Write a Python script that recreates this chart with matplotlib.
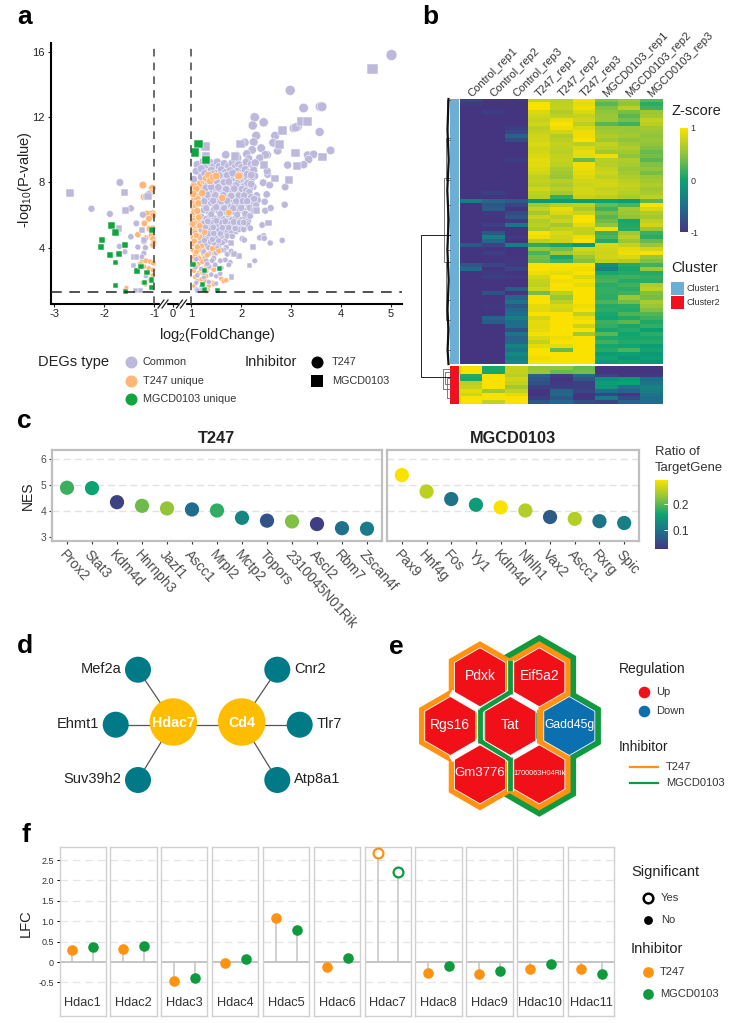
import numpy as np
import matplotlib
matplotlib.use("Agg")
import matplotlib.pyplot as plt
from matplotlib.colors import LinearSegmentedColormap, Normalize
from matplotlib.cm import ScalarMappable
from matplotlib.patches import Circle, Rectangle, RegularPolygon

plt.rcParams['font.family'] = ['Liberation Sans', 'DejaVu Sans']
plt.rcParams['mathtext.fontset'] = 'custom'
plt.rcParams['mathtext.rm'] = 'Liberation Sans'
plt.rcParams['mathtext.default'] = 'rm'

W, H = 744, 1023

# a: volcano points (log2FC, -log10P)
common_circle = [
    (5.01, 15.82), (2.98, 13.65), (3.25, 12.57), (3.58, 12.65), (3.62, 12.65), (2.27, 12.0), (2.23, 11.5), (2.45, 11.69),
    (3.05, 11.34), (3.13, 11.42), (3.09, 11.38), (3.57, 11.1), (2.3, 10.87), (2.68, 10.87), (2.07, 10.46), (2.25, 10.48),
    (2.64, 10.44), (2.4, 10.11), (2.73, 9.95), (2.22, 10.0), (3.79, 9.97), (3.33, 9.68), (3.45, 9.73), (3.35, 9.42),
    (3.25, 9.09), (2.93, 9.07), (2.52, 9.7), (2.48, 9.7), (2.37, 9.5), (1.69, 9.7), (1.91, 9.66), (1.93, 9.5),
    (2.11, 9.75), (2.15, 9.45), (2.88, 7.72), (2.87, 6.64), (2.44, 7.99), (2.57, 7.84), (2.51, 7.27), (2.31, 7.21),
    (2.33, 6.92), (2.47, 6.82), (2.48, 6.27), (2.59, 6.43), (2.24, 7.74), (2.42, 5.39), (2.82, 4.45), (2.58, 4.29),
    (2.45, 4.72), (2.37, 4.61), (2.46, 4.58), (2.02, 4.55), (2.06, 4.47), (2.53, 8.5), (2.52, 8.7), (2.27, 3.2),
    (-1.69, 8.0), (-2.26, 6.39), (-1.89, 6.07), (-1.47, 6.41), (-1.36, 5.49), (-1.47, 4.67), (-1.7, 4.08), (-1.59, 3.75),
    (-1.21, 4.37), (-1.33, 4.04), (-1.18, 4.0), (-1.21, 3.65), (-1.25, 3.44), (-1.17, 2.26), (-1.11, 7.27), (-1.23, 6.02),
    (1.12, 9.1), (1.24, 9.3), (1.3, 9.05), (1.38, 9.22), (1.45, 9.0), (1.52, 9.25), (1.56, 8.98), (1.66, 9.15),
    (1.75, 9.0), (1.82, 9.2), (1.88, 8.95), (1.95, 9.1), (2.0, 8.9), (2.1, 9.25), (2.2, 9.1), (2.25, 8.95), (2.28, 9.2),
    (1.1, 8.7), (1.2, 8.85), (1.32, 8.62), (1.4, 8.75), (1.5, 8.55), (1.6, 8.78), (1.68, 8.6), (1.78, 8.72),
    (1.85, 8.5), (1.92, 8.68), (2.0, 8.55), (2.08, 8.8), (2.15, 8.6), (2.25, 8.75), (2.27, 8.4),
    (1.05, 8.2), (1.2, 8.35), (1.35, 8.18), (1.45, 8.32), (1.55, 8.12), (1.65, 8.38), (1.72, 8.2), (1.8, 8.3),
    (1.88, 8.1), (1.95, 8.28), (2.03, 8.15), (2.1, 8.35), (2.2, 8.2),
    (1.3, 7.9), (1.38, 7.78), (1.47, 7.95), (1.55, 7.82), (1.62, 7.98), (1.7, 7.75), (1.77, 7.92), (1.84, 7.8),
    (1.92, 7.95), (2.0, 7.72), (2.08, 7.88), (2.17, 7.6),
    (1.25, 7.5), (1.33, 7.38), (1.42, 7.55), (1.5, 7.42), (1.58, 7.6), (1.66, 7.35), (1.74, 7.52), (1.82, 7.4),
    (1.9, 7.55), (1.97, 7.3), (2.05, 7.48), (2.12, 7.25),
    (1.28, 7.1), (1.36, 6.98), (1.44, 7.15), (1.52, 7.0), (1.6, 7.12), (1.68, 6.95), (1.76, 7.08), (1.84, 6.92),
    (1.92, 7.1), (2.0, 6.95), (2.1, 7.05), (2.18, 6.78),
    (1.22, 6.7), (1.3, 6.58), (1.4, 6.75), (1.48, 6.6), (1.56, 6.72), (1.65, 6.55), (1.73, 6.68), (1.8, 6.52),
    (1.88, 6.7), (1.95, 6.58), (2.05, 6.72), (2.15, 6.6), (2.25, 6.65),
    (1.25, 6.3), (1.35, 6.18), (1.45, 6.35), (1.55, 6.2), (1.62, 6.32), (1.7, 6.15), (1.8, 6.3), (1.88, 6.12),
    (1.96, 6.28), (2.05, 6.3), (2.12, 6.1), (2.2, 6.32),
    (1.2, 5.9), (1.3, 5.78), (1.38, 5.95), (1.47, 5.8), (1.57, 5.92), (1.65, 5.75), (1.75, 5.9), (1.82, 5.72),
    (1.9, 5.88), (2.0, 5.7), (2.08, 5.9), (2.14, 5.62),
    (1.25, 5.5), (1.35, 5.38), (1.42, 5.52), (1.52, 5.4), (1.6, 5.55), (1.7, 5.35), (1.78, 5.48), (1.85, 5.3),
    (1.93, 5.4), (2.0, 5.25), (2.12, 5.45), (2.18, 5.2),
    (1.2, 5.1), (1.3, 4.98), (1.37, 5.12), (1.48, 4.95), (1.55, 5.08), (1.65, 4.95), (1.72, 5.05), (1.8, 4.92),
    (1.9, 5.0), (1.95, 5.12),
    (1.22, 4.7), (1.32, 4.58), (1.4, 4.72), (1.5, 4.6), (1.6, 4.7), (1.68, 4.42),
    (1.18, 4.3), (1.28, 4.18), (1.38, 4.35), (1.47, 4.22), (1.55, 4.12), (1.62, 4.3), (1.7, 4.02),
    (1.25, 3.75), (1.35, 3.62), (1.5, 3.7), (1.65, 3.85), (1.72, 3.6), (1.8, 3.78),
    (1.1, 3.3), (1.3, 3.2), (1.45, 3.35), (1.68, 3.25), (1.78, 3.1),
    (1.08, 2.8), (1.2, 2.7), (1.35, 2.85), (1.6, 2.75), (1.75, 2.95),
    (1.12, 2.3), (1.25, 2.18), (1.4, 2.35), (1.5, 2.25), (1.58, 2.4),
    (1.1, 1.85), (1.22, 1.75), (1.35, 1.9), (1.5, 1.8), (1.1, 1.45), (1.2, 1.6),
    # second pass over the dense part of the cloud
    (1.27, 8.55), (1.42, 8.52), (1.56, 8.42), (1.72, 8.45), (1.83, 8.58), (1.98, 8.42), (2.12, 8.5), (2.2, 8.45),
    (1.34, 8.02), (1.5, 8.12), (1.66, 8.02), (1.75, 8.05), (1.9, 7.82), (2.05, 7.75), (2.13, 7.95), (2.2, 7.9),
    (1.29, 7.68), (1.4, 7.72), (1.54, 7.7), (1.7, 7.58), (1.86, 7.62), (2.02, 7.6), (2.1, 7.5), (2.16, 7.4),
    (1.32, 7.25), (1.48, 7.22), (1.64, 7.22), (1.8, 7.18), (1.95, 7.2), (2.06, 7.2), (2.2, 7.1), (2.26, 7.0),
    (1.26, 6.85), (1.44, 6.88), (1.6, 6.85), (1.72, 6.88), (1.9, 6.85), (2.03, 6.85), (2.12, 6.85), (2.3, 6.6),
    (1.3, 6.42), (1.5, 6.48), (1.66, 6.42), (1.84, 6.42), (2.0, 6.45), (2.17, 6.45), (1.4, 6.05), (1.58, 6.08),
    (1.74, 6.05), (1.92, 6.02), (2.08, 6.08), (2.18, 5.95), (1.33, 5.62), (1.5, 5.65), (1.68, 5.62), (1.85, 5.58),
    (1.97, 5.55), (2.05, 5.55), (1.28, 5.25), (1.44, 5.25), (1.62, 5.22), (1.75, 5.22), (1.88, 5.18), (2.05, 5.12),
    (1.35, 4.85), (1.45, 4.88), (1.58, 4.85), (1.72, 4.72), (1.82, 4.7), (1.26, 4.45), (1.42, 4.5), (1.55, 4.42),
    (1.35, 4.0), (1.52, 3.95), (1.6, 3.85), (1.42, 3.2), (1.58, 3.2), (1.25, 2.45), (1.32, 3.0), (1.48, 2.95),
]
common_square = [
    (4.63, 14.96), (3.21, 11.75), (3.33, 11.73), (2.83, 11.16), (1.99, 10.36), (2.77, 10.32), (1.28, 10.22), (1.29, 9.62),
    (3.09, 9.81), (3.63, 9.58), (3.11, 9.03), (2.45, 9.05), (2.68, 8.25), (2.95, 8.17), (2.55, 5.51), (2.26, 6.31),
    (2.23, 4.04), (2.17, 2.92), (1.79, 4.27), (1.95, 3.49), (1.85, 3.6), (1.8, 2.2), (1.88, 9.6), (2.3, 6.3),
    (-2.69, 7.35), (-1.6, 7.37), (-1.58, 6.27), (-1.71, 5.19), (-1.25, 5.08), (-1.21, 4.45), (-1.41, 3.45), (-1.36, 3.43),
    (-1.42, 2.92), (-1.13, 7.13), (-1.38, 1.4), (-1.28, 1.35), (1.12, 1.38), (1.22, 1.42),
]
t247_circle = [
    (-1.23, 7.84), (-1.04, 7.64), (-1.07, 7.37), (-1.21, 7.11), (-1.17, 7.13), (-1.03, 6.11), (-1.08, 6.07), (-1.15, 6.07),
    (-1.03, 5.96), (-1.11, 5.78), (-1.2, 5.49), (-1.1, 5.17), (-1.03, 5.19), (-1.33, 4.8), (-1.17, 4.59), (-1.06, 4.76),
    (-1.03, 4.55), (-1.01, 4.31), (-1.03, 4.16), (-1.25, 3.14), (-1.17, 3.2), (-1.08, 3.14), (-1.02, 3.05), (-1.21, 2.83),
    (-1.11, 2.73), (-1.03, 2.63), (-1.23, 1.85), (-1.18, 1.75), (-1.08, 2.02), (-1.56, 1.53), (-1.03, 2.3), (-1.28, 3.0),
    (1.05, 7.55), (1.09, 7.2), (1.06, 6.95), (1.12, 7.05), (1.15, 7.4), (1.2, 7.65), (1.18, 7.95), (1.25, 8.1),
    (1.3, 8.25), (1.35, 8.45), (1.38, 8.1), (1.44, 8.32), (1.5, 8.4), (1.95, 8.4), (1.75, 6.15), (1.62, 7.05),
    (1.05, 6.45), (1.09, 6.6), (1.06, 6.2), (1.12, 6.25), (1.03, 5.95), (1.09, 5.85), (1.15, 6.0), (1.05, 5.65),
    (1.12, 5.55), (1.18, 5.7), (1.04, 5.3), (1.1, 5.2), (1.17, 5.35), (1.22, 5.25), (1.03, 5.0), (1.08, 4.9),
    (1.14, 5.0), (1.2, 4.85), (1.27, 4.95), (1.04, 4.6), (1.1, 4.55), (1.16, 4.65), (1.24, 4.5), (1.3, 4.4),
    (1.03, 4.25), (1.08, 4.15), (1.14, 4.3), (1.2, 4.1), (1.27, 4.0), (1.34, 4.05), (1.42, 3.95), (1.48, 4.0),
    (1.04, 3.85), (1.1, 3.75), (1.17, 3.9), (1.24, 3.65), (1.32, 3.55), (1.4, 3.7), (1.47, 3.6), (1.55, 3.8),
    (1.05, 3.4), (1.12, 3.5), (1.2, 3.3), (1.06, 3.1), (1.14, 3.0), (1.22, 3.15), (1.3, 2.9), (1.05, 2.6),
    (1.15, 2.45), (1.3, 2.55), (1.38, 2.8), (1.45, 2.65), (1.08, 2.2), (1.2, 2.05), (1.3, 2.25), (1.6, 2.1),
    (1.65, 1.95), (1.35, 1.65), (1.43, 1.85), (1.33, 1.4), (1.3, 1.33), (1.45, 1.75), (1.7, 2.0), (1.05, 7.8),
    (1.04, 7.3), (1.1, 7.6), (1.22, 7.35), (1.04, 6.7), (1.14, 6.72), (1.03, 5.45), (1.15, 5.85), (1.07, 5.0),
    (1.1, 4.75), (1.19, 4.45), (1.06, 4.4), (1.24, 4.25), (1.12, 4.05), (1.08, 3.6), (1.15, 3.35), (1.28, 3.4),
    (1.1, 2.85), (1.2, 2.6), (1.12, 1.95), (1.28, 1.95), (1.06, 1.65), (1.18, 1.5),
]
mgcd_square = [
    (1.14, 10.36), (1.07, 9.85), (1.29, 9.36), (-1.86, 5.35), (-1.78, 4.94), (-2.05, 4.45), (-2.07, 4.06), (-1.59, 4.18),
    (-1.89, 3.55), (-1.7, 3.63), (-1.78, 3.1), (-1.78, 1.67), (-1.57, 1.32), (-1.35, 2.57), (-1.27, 2.85), (-1.15, 2.49),
    (-1.05, 2.02), (-1.05, 1.57), (-1.19, 1.85), (-1.05, 5.08), (1.56, 2.73), (1.53, 1.4), (1.03, 2.98), (1.26, 1.44),
    (1.23, 1.77), (1.27, 2.59),
]
# a: x ticks
volcano_ticks = [-3, -2, -1, 0, 1, 2, 3, 4, 5]
volcano_yticks = [4, 8, 12, 16]

# b: heatmap z-scores, rows top to bottom
samples = ['Control_rep1', 'Control_rep2', 'Control_rep3', 'T247_rep1', 'T247_rep2', 'T247_rep3',
           'MGCD0103_rep1', 'MGCD0103_rep2', 'MGCD0103_rep3']
cluster1 = [
    [-.85, -1, -1, .75, .7, .95, .45, .55, .3],
    [-.95, -1, -1, 1, .72, .9, .3, .5, .12],
    [-1, -1, -1, 1, .75, .95, .45, .7, .2],
    [-1, -.9, -1, .85, .65, .85, .5, .42, .55],
    [-1, -1, -1, .8, .72, .75, .55, .3, .6],
    [-1, -1, -1, .75, .92, .8, .55, .42, .75],
    [-1, -1, -1, .8, 1, .7, .3, .2, .7],
    [-1, -1, -.9, .7, .95, .85, .55, .55, .6],
    [-1, -1, -.85, .75, .8, .95, .6, .55, .55],
    [-1, -1, -.6, .8, .65, .95, .65, .6, .5],
    [-1, -1, -.8, .8, .7, 1, .6, .5, .55],
    [-1, -1, -1, .85, .75, .7, .75, .6, .5],
    [-1, -1, -1, .8, .72, .85, .7, .65, .45],
    [-1, -1, -1, .82, .7, .92, .6, .6, .35],
    [-1, -1, -1, .85, .75, .9, .95, .5, .4],
    [-1, -1, -.9, .9, .75, .35, .7, .65, .3],
    [-1, -1, -1, .88, .72, .95, .68, .62, .45],
    [-1, -1, -1, .85, .62, .92, .75, .55, .5],
    [-1, -1, -1, .8, .6, .9, .78, .6, .42],
    [-1, -1, -1, .72, .55, .85, .72, .65, .55],
    [-1, -1, -1, .75, .68, .8, .8, .7, .6],
    [-1, -1, -1, .7, .62, .78, .82, .75, .65],
    [-1, -1, -1, .8, .7, .82, .75, .72, .58],
    [-1, -.9, -1, .72, .6, .8, .78, .68, .62],
    [-1, -1, -1, .68, .15, .75, .7, .62, .72],
    [-.35, -.55, -.65, -.1, -.05, -.02, 0, -.05, .3],
    [-1, -.7, -.85, .6, .7, .72, .35, .25, 1],
    [-1, -.65, -1, .75, .92, .62, .2, .6, .85],
    [-1, -.95, -.8, .6, .85, .78, .4, .55, .65],
    [-1, -1, -.7, .78, .7, 1, .3, .5, .6],
    [-1, -1, -.95, .65, .78, 1, .38, .05, .72],
    [-1, -.9, -.45, .7, .6, .88, .5, .08, .8],
    [-1, -1, -1, .62, .72, .75, .95, .1, .55],
    [-1, -.7, -1, 1, .85, .72, .2, .6, .18],
    [-1, -.35, -.95, .95, .8, .95, .25, .7, .12],
    [-1, -.55, -1, .7, .78, 1, .1, .55, .35],
    [-.7, -.85, -.35, .12, .05, -.1, .85, .75, .55],
    [-1, -1, -1, .5, .4, .8, .82, .9, .8],
    [-1, -.9, -1, .25, .6, .72, .78, .95, 1],
    [-1, -1, -1, .4, .05, .55, .8, .85, .55],
    [-1, -1, -.95, .35, .2, .45, .72, .65, .45],
    [-.7, -.85, -.95, 1, 1, 1, -.2, .1, .2],
    [-.55, -1, -.85, 1, .98, .95, -.3, .05, .55],
    [-1, -.95, -1, .95, .9, 1, .05, .1, .1],
    [-1, -.9, -.95, .82, 1, .85, .18, .2, .15],
    [-1, -1, -1, .75, .95, .98, .22, .1, .12],
    [-1, -1, -1, .72, 1, .9, .12, .2, .65],
    [-1, -1, -.65, .8, .98, 1, .15, .12, .72],
    [-1, -.75, -1, .4, .72, 1, .15, .2, .45],
    [-1, -1, -.6, 1, .55, 1, .12, .55, .42],
    [-1, -1, -.45, 1, .72, 1, .25, .4, .62],
    [-1, -.95, -.7, .9, .85, .95, .1, .12, .55],
    [-1, -1, -.55, .88, .8, 1, .12, .1, .45],
    [-1, -1, -.5, 1, 1, .72, .05, .25, .28],
    [-1, -.6, -.35, .82, 1, .95, .02, .08, .2],
    [-1, -.65, -.5, .9, 1, 1, .18, .3, .08],
    [-1, -1, -.5, .88, 1, .78, .15, .05, .15],
    [-1, -1, -.75, .9, 1, 1, .05, .1, -.02],
    [-1, -1, -.45, .98, 1, .6, .3, .02, .12],
    [-1, -1, -.6, .85, .95, 1, .08, .05, .05],
    [-1, -1, -.55, .75, 1, 1, .2, .1, .1],
    [-1, -1, -.3, .9, .9, 1, .05, .02, -.05],
    [-1, -1, -.45, 1, .35, 1, .1, .25, .02],
    [-1, -1, -.25, 1, 1, 1, -.05, -.02, -.1],
    [-1, -1, -.35, .95, 1, 1, .02, -.15, -.02],
    [-1, -1, -.25, 1, 1, 1, -.08, 0, -.12],
]
cluster2 = [
    [1, .05, .75, .5, .5, .35, -1, -1, -1],
    [1, .05, .75, .55, .35, .4, -1, -1, -1],
    [.1, 1, .7, -.6, -.9, -.5, -.85, -.95, -.95],
    [.05, 1, .8, -.7, -1, -.7, -.2, -.1, -.5],
    [.7, 1, .75, -.75, -.95, -.9, -.05, 0, -.45],
    [.75, 1, .6, -.9, -.9, -.9, -.1, -.45, -.3],
    [.9, .6, .75, -1, -.6, -.85, -.5, -.6, -.35],
    [.8, 1, .9, -1, -.55, -1, -.85, -.95, -.45],
    [1, 1, 1, -.9, -.7, -1, -.4, -.8, -.5],
    [1, .75, 1, -.7, -.55, -.75, -.85, -.6, -.5],
]
# b: dendrogram brackets (x0, y_top, y_bottom), joined to the right
dend_brackets = [
    (443.5, 178, 262), (446, 138, 180), (447, 205, 250), (445.5, 262, 320),
    (446.5, 300, 350), (447, 100, 140), (442.5, 369, 389), (445, 372, 384), (447, 378, 398),
]
dend_root = (421, 235, 377)

# c: regulon enrichment
t247_tf = ['Prox2', 'Stat3', 'Kdm4d', 'Hnrnph3', 'Jazf1', 'Ascc1', 'Mrpl2', 'Mctp2', 'Topors', '2310045N01Rik',
           'Ascl2', 'Rbm7', 'Zscan4f']
t247_nes = [4.885, 4.87, 4.33, 4.19, 4.09, 4.05, 4.01, 3.73, 3.62, 3.59, 3.49, 3.33, 3.31]
t247_ratio = [.185, .16, .04, .21, .23, .09, .18, .125, .06, .22, .035, .095, .11]
mgcd_tf = ['Pax9', 'Hnf4g', 'Fos', 'Yy1', 'Kdm4d', 'Nhlh1', 'Vax2', 'Ascc1', 'Rxrg', 'Spic']
mgcd_nes = [5.37, 4.74, 4.45, 4.23, 4.13, 4.01, 3.76, 3.69, 3.60, 3.53]
mgcd_ratio = [.295, .255, .10, .15, .295, .25, .07, .25, .10, .115]

# d: network
hubs = ['Hdac7', 'Cd4']
hub_links = [('Mef2a', 0), ('Ehmt1', 0), ('Suv39h2', 0), ('Cnr2', 1), ('Tlr7', 1), ('Atp8a1', 1)]

# e: hexagons
hex_genes = ['Pdxk', 'Eif5a2', 'Rgs16', 'Tat', 'Gadd45g', 'Gm3776', '1700063H04Rik']
hex_regulation = ['Up', 'Up', 'Up', 'Up', 'Down', 'Up', 'Up']

# f: Hdac lollipops
hdacs = ['Hdac1', 'Hdac2', 'Hdac3', 'Hdac4', 'Hdac5', 'Hdac6', 'Hdac7', 'Hdac8', 'Hdac9', 'Hdac10', 'Hdac11']
lfc_t247 = [.29, .33, -.47, -.02, 1.08, -.12, 2.66, -.26, -.30, -.17, -.16]
lfc_mgcd = [.37, .38, -.38, .07, .78, .11, 2.21, -.11, -.22, -.06, -.29]
sig_hdac = ['Hdac7']

ORANGE = '#ff9210'
GREEN = '#0f9b3d'
PURPLE = '#bdb9dc'
zcmap = LinearSegmentedColormap.from_list('z', ['#453581', '#1f6e8c', '#0ba373', '#8fc43c', '#fae100'])


def px_axes(fig, l, t, r, b, **kw):
    return fig.add_axes([l / W, 1 - b / H, (r - l) / W, (b - t) / H], **kw)


def point_area(y):
    return ((4.3 + 0.42 * np.asarray(y)) * 0.72) ** 2


def fwd(x):
    x = np.asarray(x, dtype=float)
    return np.where(np.abs(x) <= 1, 0.37 * x, x - np.sign(x) * 0.63)


def inv(x):
    x = np.asarray(x, dtype=float)
    return np.where(np.abs(x) <= 0.37, x / 0.37, x + np.sign(x) * 0.63)


fig = plt.figure(figsize=(W / 100, H / 100), dpi=100)
over = fig.add_axes([0, 0, 1, 1], zorder=5)
over.set_xlim(0, W)
over.set_ylim(H, 0)
over.axis('off')
over.patch.set_alpha(0)

for letter, lx, ly in [('a', 17, 24), ('b', 422, 24), ('c', 17, 428), ('d', 17, 653), ('e', 389, 654), ('f', 21, 842)]:
    over.text(lx, ly, letter, fontsize=19, fontweight='bold')

# panel a
ax = px_axes(fig, 50.5, 43, 402, 304)
ax.set_xscale('function', functions=(fwd, inv))
ax.set_xlim(-3.08, 5.22)
ax.set_ylim(4 - (304 - 247.7) / 16.3, 4 + (247.7 - 43) / 16.3)
for pts, col, mk, zo in [(t247_circle, '#fdb777', 'o', 2), (common_circle, PURPLE, 'o', 3), (common_square, PURPLE, 's', 3), (mgcd_square, '#0fa63f', 's', 4)]:
    px_, py_ = zip(*pts)
    ax.scatter(px_, py_, s=point_area(py_), c=col, marker=mk, edgecolors='white', linewidths=0.35, zorder=zo)
# a few T247 genes sit on top of the common cloud
top_orange = t247_circle[40:52] + t247_circle[60:90:3] + t247_circle[112:126:2]
ax.scatter(*zip(*top_orange), s=point_area([p[1] for p in top_orange]), c='#fdb777', edgecolors='white', linewidths=0.35, zorder=3.5)
for v in (-1, 1):
    ax.axvline(v, color='#444444', lw=1.1, ls=(0, (5, 4)), zorder=5)
ax.axhline(1.3, color='#222222', lw=1.1, ls=(0, (7, 5)), zorder=5)
ax.set_xticks(volcano_ticks)
ax.set_xticklabels([str(t) for t in volcano_ticks])
ax.xaxis.set_minor_locator(plt.NullLocator())
ax.set_yticks(volcano_yticks)
ax.tick_params(labelsize=8, length=2, width=0.8, pad=2, color='#222222', labelcolor='#222222')
ax.tick_params(axis='x', pad=1.5)
for s in ('top', 'right'):
    ax.spines[s].set_visible(False)
for s in ('left', 'bottom'):
    ax.spines[s].set_linewidth(1.5)
ax.set_xlabel(r'log$_{2}$(FoldChange)', fontsize=10.5, labelpad=5, x=0.474, color='#222222')
ax.set_ylabel(r'-log$_{10}$(P-value)', fontsize=10.5, labelpad=-1, color='#222222', y=0.475)
for bx in (163, 181.5):
    over.add_patch(Rectangle((bx - 3, 301), 6, 5, color='white', zorder=2))
    for off in (-2, 2):
        over.plot([bx - 3 + off, bx + 3 + off], [308, 300], color='#222222', lw=0.9, zorder=3)

over.text(38, 366, 'DEGs type', fontsize=10.5, color='#222222')
for ly, col, lab in [(362, PURPLE, 'Common'), (381, '#fdb777', 'T247 unique'), (399, '#0fa63f', 'MGCD0103 unique')]:
    over.scatter([131], [ly], s=75, c=col, linewidths=0)
    over.text(142.7, ly, lab, fontsize=7.8, va='center', color='#333333')
over.text(245, 366, 'Inhibitor', fontsize=10.5, color='#222222')
over.scatter([317], [362], s=75, c='black', marker='o', linewidths=0)
over.scatter([317], [380.7], s=75, c='black', marker='s', linewidths=0)
over.text(331.7, 362, 'T247', fontsize=7.8, va='center', color='#333333')
over.text(331.7, 380.7, 'MGCD0103', fontsize=7.8, va='center', color='#333333')

# panel b
hm1 = px_axes(fig, 460, 98.7, 662.7, 364)
hm2 = px_axes(fig, 460, 366, 662.7, 404)
for hm, rows in [(hm1, cluster1), (hm2, cluster2)]:
    hm.imshow(np.array(rows), cmap=zcmap, vmin=-1, vmax=1, aspect='auto', interpolation='nearest')
    hm.axis('off')
for i, name in enumerate(samples):
    over.text(460 + 22.52 * (i + 0.5) + 2, 99, name, rotation=45, rotation_mode='anchor', fontsize=8, ha='left', va='bottom', color='#333333')
over.add_patch(Rectangle((449.7, 98.7), 9, 265.3, color='#6bafd6', lw=0))
over.add_patch(Rectangle((449.7, 366), 9, 38, color='#f11020', lw=0))
for x0, y0, y1 in dend_brackets:
    over.plot([449.5, x0, x0, 449.5], [y0, y0, y1, y1], color='#666666', lw=0.6)
over.plot([449.5, dend_root[0], dend_root[0], 449.5], [dend_root[1], dend_root[1], dend_root[2], dend_root[2]], color='#222222', lw=0.7)
over.plot([448.5, 447.5, 448.7, 447.3, 448.6, 447.4, 448.7, 447.5, 448.5, 447.6, 448.5],
          [99, 130, 160, 190, 220, 250, 280, 310, 330, 350, 364], color='#111111', lw=1.6)
over.text(671, 115, 'Z-score', fontsize=10.5, color='#222222')
cax = px_axes(fig, 680, 127.7, 687.7, 232.3)
cb = fig.colorbar(ScalarMappable(Normalize(-1, 1), zcmap), cax=cax, ticks=[-1, 0, 1])
cb.outline.set_visible(False)
cb.ax.set_yticklabels(['-1', '0', '1'])
cb.ax.tick_params(labelsize=6.5, length=0, pad=2, labelcolor='#333333')
over.text(671, 272, 'Cluster', fontsize=10.5, color='#222222')
for ly, col, lab in [(282.3, '#6bafd6', 'Cluster1'), (295.7, '#f11020', 'Cluster2')]:
    over.add_patch(Rectangle((671, ly), 13, 13, color=col, lw=0))
    over.text(686.7, ly + 6.5, lab, fontsize=6.5, va='center', color='#333333')

# panel c
norm = Normalize(0.025, 0.295)
ylim_c = (3 - 3.9 / 26, 6 + 8.7 / 26)
for (l, r, names, nes, ratio, title) in [(52, 382, t247_tf, t247_nes, t247_ratio, 'T247'), (387, 639, mgcd_tf, mgcd_nes, mgcd_ratio, 'MGCD0103')]:
    ac = px_axes(fig, l, 450, r, 540.7)
    xs = np.arange(len(names))
    ac.scatter(xs, nes, c=ratio, cmap=zcmap, norm=norm, s=105, linewidths=0, zorder=3)
    ac.set_xlim(-0.6, len(names) - 0.4)
    ac.set_ylim(*ylim_c)
    ac.set_yticks([3, 4, 5, 6])
    for g in [4, 5, 6]:
        ac.axhline(g, color='#e2e2e2', lw=1, ls=(0, (5, 3)), zorder=1)
    ac.set_xticks(xs)
    ac.set_xticklabels(names, rotation=-48, ha='left', va='top', rotation_mode='anchor', fontsize=10, color='#4d4d4d')
    ac.tick_params(axis='x', length=2, width=0.8, pad=3, color='#333333')
    ac.tick_params(axis='y', length=2, width=0.8, pad=2, labelsize=7.5, labelcolor='#4d4d4d', color='#333333')
    if l > 100:
        ac.tick_params(axis='y', left=False, labelleft=False)
    else:
        ac.set_ylabel('NES', fontsize=10, labelpad=4, color='#222222')
    for s in ac.spines.values():
        s.set_color('#bfbfbf')
        s.set_linewidth(1.6)
    ac.set_title(title, fontsize=11.8, fontweight='bold', pad=5, color='#222222')
cax2 = px_axes(fig, 655, 480, 668, 549.3)
cb2 = fig.colorbar(ScalarMappable(norm, zcmap), cax=cax2, ticks=[0.1, 0.2])
cb2.outline.set_visible(False)
cb2.ax.tick_params(labelsize=8.5, length=3, width=0.7, color='white', direction='in', pad=3, labelcolor='#333333')
over.text(655, 455, 'Ratio of', fontsize=9.4, color='#333333')
over.text(655, 471.5, 'TargetGene', fontsize=9.4, color='#333333')

# panel d
hub_xy = [(173.3, 722), (241.7, 722)]
leaf_xy = {'Mef2a': (138, 669.7), 'Ehmt1': (115.7, 724.7), 'Suv39h2': (138, 780),
           'Cnr2': (277.3, 669.7), 'Tlr7': (299.7, 724.7), 'Atp8a1': (277.3, 780)}
for name, h in hub_links:
    lx, ly = leaf_xy[name]
    over.plot([lx, hub_xy[h][0]], [ly, hub_xy[h][1] + 2.7 * (ly == 724.7)], color='#555555', lw=0.9, zorder=1)
    over.add_patch(Circle((lx, ly), 13, color='#007a87', lw=0, zorder=2))
    if h == 0:
        over.text(lx - 17, ly - 1, name, fontsize=10.5, ha='right', va='center', color='#222222')
    else:
        over.text(lx + 17, ly - 1, name, fontsize=10.5, ha='left', va='center', color='#222222')
over.plot([hub_xy[0][0], hub_xy[1][0]], [724.7, 724.7], color='#555555', lw=0.9, zorder=1)
for name, (hx, hy) in zip(hubs, hub_xy):
    over.add_patch(Circle((hx, hy), 23.7, color='#ffbd00', lw=0, zorder=2))
    over.text(hx, hy + 1, name, fontsize=10.3, fontweight='bold', color='white', ha='center', va='center', zorder=3)

# panel e
hex_xy = dict(zip(hex_genes, [(480, 677.3), (539.3, 677.3), (450.3, 726), (510.3, 726), (569.3, 726), (480, 774.3), (539.3, 774.3)]))
R = 29.5
RED = '#f21018'
BLUE = '#0b6fb0'


def hexagon(name, radius, color, z):
    over.add_patch(RegularPolygon(hex_xy[name], 6, radius=radius, orientation=0, facecolor=color, edgecolor='none', zorder=z))


def shared_edge(a, b, color, width, z):
    (x0, y0), (x1, y1) = hex_xy[a], hex_xy[b]
    mx, my = (x0 + x1) / 2, (y0 + y1) / 2
    dx, dy = x1 - x0, y1 - y0
    n = np.hypot(dx, dy)
    half = 17
    over.plot([mx - dy / n * half, mx + dy / n * half], [my + dx / n * half, my - dx / n * half],
              color=color, lw=width * 0.72, solid_capstyle='butt', zorder=z)


for name, extra in [('Eif5a2', 13), ('1700063H04Rik', 13), ('Gadd45g', 7), ('Tat', 7)]:
    hexagon(name, R + extra, GREEN, 1)
for name in ['Pdxk', 'Rgs16', 'Gm3776', 'Eif5a2', '1700063H04Rik']:
    hexagon(name, R + 6.6, ORANGE, 1.2)
hexagon('Gadd45g', R + 1, BLUE, 1.3)
for a, b in [('Pdxk', 'Rgs16'), ('Rgs16', 'Gm3776'), ('Tat', 'Eif5a2'), ('Tat', '1700063H04Rik')]:
    shared_edge(a, b, 'white', 7, 1.4)
for a, b in [('Pdxk', 'Eif5a2'), ('Gm3776', '1700063H04Rik'), ('Pdxk', 'Tat'), ('Rgs16', 'Tat'), ('Gm3776', 'Tat')]:
    shared_edge(a, b, 'white', 7, 1.4)
    shared_edge(a, b, GREEN, 4.8, 1.5)
for a, b in [('Tat', 'Gadd45g'), ('Eif5a2', 'Gadd45g'), ('1700063H04Rik', 'Gadd45g')]:
    shared_edge(a, b, ORANGE, 7, 1.5)
for name, reg in zip(hex_genes, hex_regulation):
    over.add_patch(RegularPolygon(hex_xy[name], 6, radius=R, orientation=0, facecolor=RED if reg == 'Up' else BLUE,
                                  edgecolor='white', linewidth=0.6, zorder=2))
    fs = 5.2 if name.startswith('1700') else (8.7 if name == 'Gadd45g' else 10)
    if name == 'Gm3776':
        fs = 9.5
    over.text(hex_xy[name][0], hex_xy[name][1] - 1, name, color='white', fontsize=fs, ha='center', va='center', zorder=3)

over.text(618.7, 673, 'Regulation', fontsize=10, color='#222222')
for ly, col, lab in [(692, RED, 'Up'), (710.7, BLUE, 'Down')]:
    over.scatter([644.3], [ly], s=70, c=col, linewidths=0)
    over.text(656, ly, lab, fontsize=8, va='center', color='#333333')
over.text(618.7, 751, 'Inhibitor', fontsize=10, color='#222222')
for ly, col, lab in [(767, ORANGE, 'T247'), (783.3, GREEN, 'MGCD0103')]:
    over.plot([630, 657.7], [ly, ly], color=col, lw=1.6)
    over.text(665.7, ly, lab, fontsize=8, va='center', color='#333333')

# panel f
ylim_f = (-54 / 40.8, 114.7 / 40.8)
for i, name in enumerate(hdacs):
    l = 59.5 + 50.85 * i
    af = px_axes(fig, l, 847.3, l + 46.2, 1016)
    for g in [-0.5, 0.5, 1, 1.5, 2, 2.5]:
        af.axhline(g, color='#e4e4e4', lw=0.9, ls=(0, (6, 4)), zorder=1)
    af.axhline(0, color='#c4c4c4', lw=1.4, zorder=2)
    for xp, val, col in [(0, lfc_t247[i], ORANGE), (1, lfc_mgcd[i], GREEN)]:
        af.plot([xp, xp], [0, val], color='#c4c4c4', lw=1.1, zorder=2)
        if name in sig_hdac:
            af.scatter([xp], [val], s=50, facecolors='white', edgecolors=col, linewidths=1.6, zorder=3, clip_on=False)
        else:
            af.scatter([xp], [val], s=58, c=col, linewidths=0, zorder=3)
    af.set_xlim(-0.62, 1.59)
    af.set_ylim(*ylim_f)
    af.set_xticks([])
    af.text(0.5, 0.075, name, transform=af.transAxes, ha='center', va='center', fontsize=9.2, color='#333333')
    for s in af.spines.values():
        s.set_color('#d0d0d0')
        s.set_linewidth(1.0)
    if i == 0:
        af.set_yticks([-0.5, 0, 0.5, 1, 1.5, 2, 2.5])
        af.set_yticklabels(['-0.5', '0', '0.5', '1.0', '1.5', '2.0', '2.5'])
        af.tick_params(axis='y', labelsize=6.5, length=2, width=0.7, pad=2, labelcolor='#333333')
        af.set_ylabel('LFC', fontsize=10.5, color='#222222', labelpad=4, y=0.55)
    else:
        af.set_yticks([])

over.text(631, 876, 'Significant', fontsize=10.5, color='#222222')
over.scatter([647.6], [898], s=48, facecolors='white', edgecolors='black', linewidths=1.8)
over.scatter([647.6], [920], s=40, c='black', linewidths=0)
over.text(661, 898, 'Yes', fontsize=8, va='center', color='#333333')
over.text(661, 920, 'No', fontsize=8, va='center', color='#333333')
over.text(631, 953, 'Inhibitor', fontsize=10.5, color='#222222')
for ly, col, lab in [(972, ORANGE, 'T247'), (994, GREEN, 'MGCD0103')]:
    over.scatter([648], [ly], s=60, c=col, linewidths=0)
    over.text(660, ly, lab, fontsize=8, va='center', color='#333333')

fig.savefig('out.png', dpi=100)
